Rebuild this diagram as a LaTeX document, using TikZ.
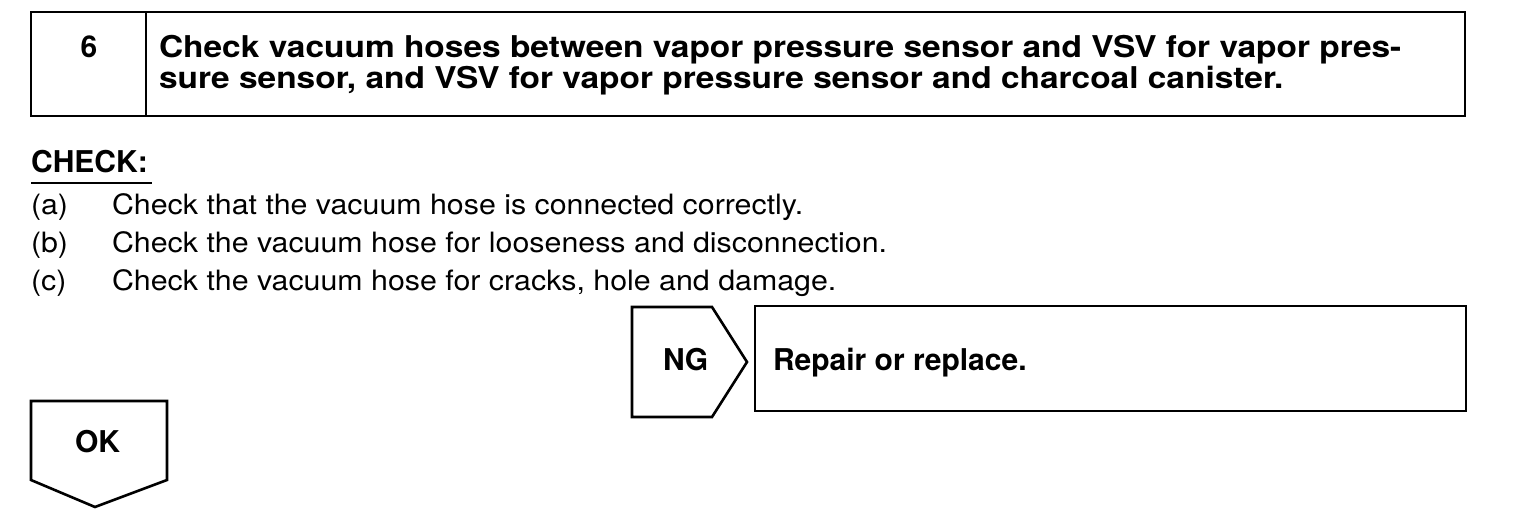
\documentclass[tikz,border=0pt]{standalone}
\usepackage{fontspec}
\setmainfont{TeX Gyre Heros}
\begin{document}
\begin{tikzpicture}[x=1pt,y=-1pt,
  box/.style={draw=black,line width=2.6pt,line join=miter},
  txt/.style={anchor=base west,inner sep=0pt,outer sep=0pt},
  bodyf/.style={font=\fontsize{28}{34}\selectfont},
  boldf/.style={font=\fontsize{30}{36}\selectfont\bfseries}]
\useasboundingbox (0,0) rectangle (1520,514);
% header
\draw[box] (31,12) rectangle (1465,116);
\draw[box] (146,12) -- (146,116);
\node[txt,boldf,anchor=base] (num) at (89,57) {6};
\node[txt,boldf] (h1) at (159,57) {\scalebox{1.115}[1]{Check vacuum hoses between vapor pressure sensor and VSV for vapor pres-}};
\node[txt,boldf] (h2) at (159,88) {\scalebox{1.115}[1]{sure sensor, and VSV for vapor pressure sensor and charcoal canister.}};
% check
\node[txt,boldf] (chk) at (31,172) {CHECK:};
\draw[line width=2pt] (31,183) -- (152,183);
\node[txt,bodyf] (la) at (31,214) {\scalebox{1.084}[1]{(a)}};
\node[txt,bodyf] (ta) at (112,214) {\scalebox{1.084}[1]{Check that the vacuum hose is connected correctly.}};
\node[txt,bodyf] (lb) at (31,252) {\scalebox{1.084}[1]{(b)}};
\node[txt,bodyf] (tb) at (112,252) {\scalebox{1.084}[1]{Check the vacuum hose for looseness and disconnection.}};
\node[txt,bodyf] (lc) at (31,290) {\scalebox{1.084}[1]{(c)}};
\node[txt,bodyf] (tc) at (112,290) {\scalebox{1.084}[1]{Check the vacuum hose for cracks, hole and damage.}};
% NG
\draw[box] (632,307) -- (712,307) -- (747,362) -- (712,417) -- (632,417) -- cycle;
\node[txt,boldf] (ng) at (663,370) {NG};
\draw[box] (755,306) rectangle (1466,411);
\node[txt,boldf] (rep) at (773,370) {Repair or replace.};
% OK
\draw[box] (31,401) -- (167,401) -- (167,480) -- (95,507) -- (31,480) -- cycle;
\node[txt,boldf] (ok) at (75,452) {OK};
\end{tikzpicture}
\end{document}
